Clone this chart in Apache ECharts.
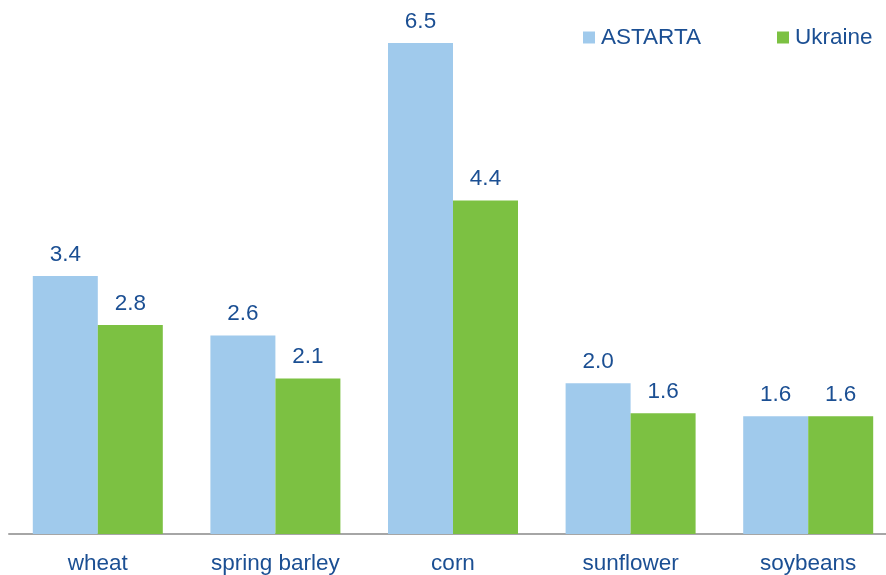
<!DOCTYPE html>
<html>
<head>
<meta charset="utf-8">
<script src="https://cdn.jsdelivr.net/npm/echarts@6/dist/echarts.min.js"></script>
<style>
html,body{margin:0;padding:0;background:#fff;}
#chart{width:886px;height:575px;}
</style>
</head>
<body>
<div id="chart"></div>
<script>
var categories = ['wheat', 'spring barley', 'corn', 'sunflower', 'soybeans'];
var astarta = [3.42, 2.63, 6.51, 2.00, 1.56];
var ukraine = [2.77, 2.06, 4.42, 1.60, 1.56];
var seriesNames = ['ASTARTA', 'Ukraine'];

var textColor = '#1B4F93';
var font = '"Liberation Sans", Arial, sans-serif';
var fs = 22.5;

var chart = echarts.init(document.getElementById('chart'), null, {renderer: 'canvas'});
var labelCfg = {
  show: true,
  position: 'top',
  distance: 10,
  color: textColor,
  fontSize: fs,
  fontFamily: font,
  formatter: function (p) { return Number(p.value).toFixed(1); }
};
chart.setOption({
  animation: false,
  backgroundColor: '#fff',
  legend: {
    data: seriesNames,
    left: 583,
    top: 26,
    padding: 0,
    itemWidth: 12,
    itemHeight: 12,
    itemGap: 76,
    icon: 'rect',
    textStyle: {color: textColor, fontSize: fs, fontFamily: font, padding: [0, 0, 0, 1]}
  },
  grid: {left: 9, width: 888, top: 6, bottom: 41, containLabel: false, outerBoundsMode: 'none'},
  xAxis: {
    type: 'category',
    data: categories,
    axisLine: {show: true, lineStyle: {color: '#A6A6A6', width: 2}},
    axisTick: {show: false},
    axisLabel: {color: textColor, fontSize: fs, fontFamily: font, margin: 18, interval: 0}
  },
  yAxis: {
    type: 'value',
    min: 0,
    max: 7,
    show: false,
    splitLine: {show: false}
  },
  series: [
    {name: seriesNames[0], type: 'bar', data: astarta, barWidth: 65, barGap: '0%',
     itemStyle: {color: '#A0CAEC'}, label: labelCfg},
    {name: seriesNames[1], type: 'bar', data: ukraine, barWidth: 65, barGap: '0%',
     itemStyle: {color: '#7CC142'}, label: labelCfg}
  ]
});
</script>
</body>
</html>
